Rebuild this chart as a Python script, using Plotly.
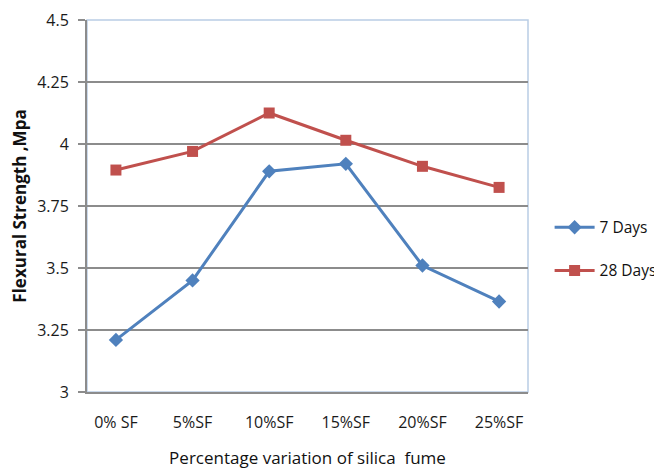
import plotly.graph_objects as go

categories = ["0% SF", "5%SF", "10%SF", "15%SF", "20%SF", "25%SF"]
days7 = [3.21, 3.45, 3.89, 3.92, 3.51, 3.365]
days28 = [3.895, 3.97, 4.125, 4.015, 3.91, 3.825]
yticks = [3, 3.25, 3.5, 3.75, 4, 4.25, 4.5]
yticklabels = ["3", "3.25", "3.5", "3.75", "4", "4.25", "4.5"]

FONT = "Open Sans"

fig = go.Figure()
fig.add_trace(go.Scatter(
    x=categories, y=days7, name="7 Days", mode="lines+markers",
    line=dict(color="#4F81BD", width=3),
    marker=dict(symbol="diamond", size=11, color="#4F81BD"),
    legendgroup="a"))
fig.add_trace(go.Scatter(
    x=categories, y=days28, name="28 Days", mode="lines+markers",
    line=dict(color="#C0504D", width=3),
    marker=dict(symbol="square", size=11, color="#C0504D"),
    legendgroup="b"))

# page body has an 8px margin, so margins are offset accordingly
fig.update_layout(
    width=680, height=471,
    margin=dict(l=79, r=160, t=12, b=87),
    paper_bgcolor="white", plot_bgcolor="white",
    font=dict(family=FONT, size=16, color="#1a1a1a"),
    showlegend=True,
    legend=dict(x=1.049, y=0.384, xanchor="left", yanchor="middle",
                tracegroupgap=20, font=dict(size=15.5, family=FONT, color="#111"),
                itemwidth=40),
    xaxis=dict(
        automargin=False,
        showgrid=False, showline=True, linecolor="#8C8C8C", linewidth=2,
        ticks="", tickfont=dict(size=16, family=FONT, color="#1a1a1a"),
        ticklabelstandoff=15,
        title=dict(text="Percentage variation of silica  fume",
                   font=dict(size=17, family=FONT, color="#111"), standoff=20),
    ),
    yaxis=dict(
        automargin=False,
        range=[3, 4.5], tickvals=yticks, ticktext=yticklabels,
        showgrid=True, gridcolor="#8C8C8C", gridwidth=1.5,
        showline=True, linecolor="#8C8C8C", linewidth=2,
        ticks="outside", ticklen=7, tickcolor="#8C8C8C", tickwidth=1.5,
        ticklabelstandoff=6,
        tickfont=dict(size=16, family=FONT, color="#1a1a1a"),
        title=dict(text="<b>Flexural Strength ,Mpa</b>",
                   font=dict(size=17, family=FONT, color="#111"), standoff=6),
        zeroline=False,
    ),
)
fig.add_shape(type="rect", xref="paper", yref="paper", x0=0, x1=1, y0=0, y1=1,
              line=dict(color="#B9CDE5", width=1.5), layer="below")

fig.write_html("out.html")
